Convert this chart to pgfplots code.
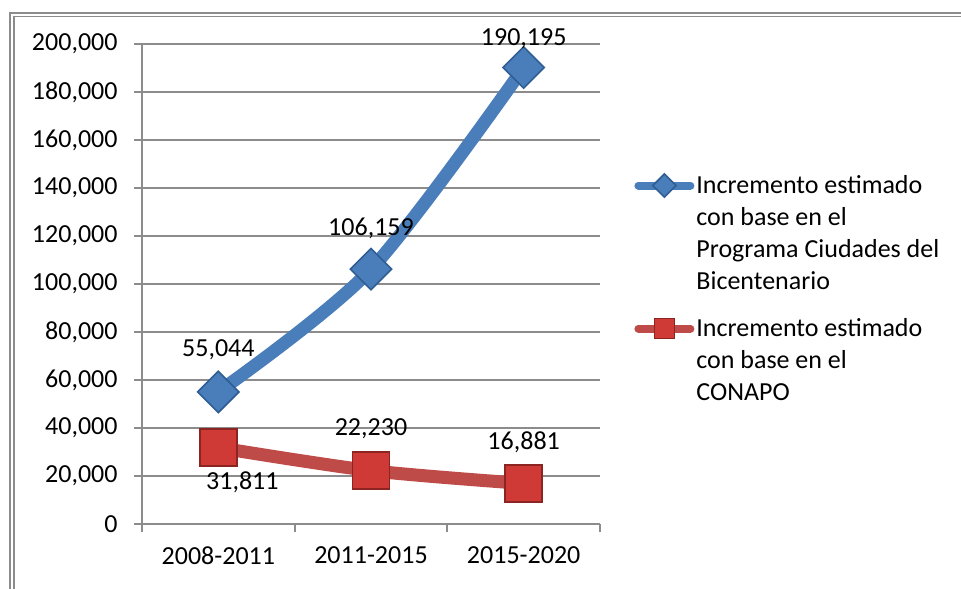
\documentclass[border=0pt]{standalone}
\usepackage{fontspec}
\setmainfont{Carlito}
\usepackage{pgfplots}
\usepackage{pgfplotstable}
\pgfplotsset{compat=1.18}

\definecolor{azul}{HTML}{4A7EBB}
\definecolor{azulborde}{HTML}{2F5D94}
\definecolor{rojo}{HTML}{BE4B48}
\definecolor{rojomarca}{HTML}{D03A36}
\definecolor{rojoborde}{HTML}{8C2522}
\definecolor{rejilla}{HTML}{8C8C8C}

% x = periodo (0,1,2), dx/dy = desplazamiento de la etiqueta en pt
\pgfplotstableread{
x y dx dy lab
0 55044 0 21 55,044
1 106159 0 20.5 106,159
2 190195 0 14.5 190,195
}\ciudades

\pgfplotstableread{
x y dx dy lab
0 31811 12 -17.5 31,811
1 22230 0 21 22,230
2 16881 0 20.5 16,881
}\conapo

\begin{document}
\begin{tikzpicture}[font=\fontsize{13}{16}\selectfont]
\useasboundingbox (-71pt,-32pt) rectangle (409.5pt,262pt);
\clip (-71pt,-32pt) rectangle (409.5pt,262pt);
% marco doble (el lado derecho queda fuera de la imagen)
\draw[rejilla, line width=0.9pt] (-66pt,-45pt) rectangle (430pt,255.5pt);
\draw[rejilla, line width=0.9pt] (-64pt,-45pt) rectangle (428pt,253.7pt);

\begin{axis}[
  scale only axis,
  width=229pt, height=240pt,
  xmin=-0.5, xmax=2.5,
  ymin=0, ymax=200000,
  clip=false,
  axis lines*=left,
  axis line style={rejilla, line width=1pt, -},
  xtick={-0.5,0.5,1.5,2.5},
  x tick label as interval,
  xticklabels={2008-2011,2011-2015,2015-2020},
  ytick={0,20000,...,200000},
  scaled y ticks=false,
  /pgf/number format/fixed,
  /pgf/number format/1000 sep={,},
  /pgf/number format/assume math mode=true,
  yticklabel style={xshift=-4.7pt},
  xticklabel style={yshift=-4pt},
  ymajorgrids,
  major grid style={rejilla, line width=1pt},
  tick align=outside,
  major tick length=4pt,
  tick style={rejilla, line width=1pt},
  legend cell align=left,
  legend style={
    at={(axis description cs:1,0.732)}, anchor=north west, xshift=17pt,
    draw=none, fill=none, inner sep=0pt, row sep=11pt,
    nodes={inner sep=1pt, align=left},
    /tikz/every even column/.append style={column sep=0pt},
  },
  nodes near coords,
  point meta=explicit symbolic,
  visualization depends on={\thisrow{dx}\as\labdx},
  visualization depends on={\thisrow{dy}\as\labdy},
  every node near coord/.append style={anchor=center, text=black,
    xshift=\labdx pt, yshift=\labdy pt},
]

\addplot[azul, line width=6.5pt, smooth, mark=square*, mark size=7.3pt,
  mark options={fill=azul, draw=azulborde, line width=0.8pt, rotate=45},
  legend image code/.code={
    \draw[line width=4pt, line cap=round] (2pt,24pt) -- (28pt,24pt);
    \draw[mark size=4.1pt] plot coordinates {(15pt,24pt)};
  }]
  table[x=x, y=y, meta=lab]{\ciudades};
\addlegendentry{Incremento estimado\\con base en el\\Programa Ciudades del\\Bicentenario}

\addplot[rojo, line width=6.5pt, smooth, mark=square*, mark size=9.2pt,
  mark options={fill=rojomarca, draw=rojoborde, line width=0.8pt},
  legend image code/.code={
    \draw[line width=4pt, line cap=round] (2pt,16pt) -- (28pt,16pt);
    \draw[mark size=5pt] plot coordinates {(15pt,16pt)};
  }]
  table[x=x, y=y, meta=lab]{\conapo};
\addlegendentry{Incremento estimado\\con base en el\\CONAPO}

\end{axis}
\end{tikzpicture}
\end{document}
